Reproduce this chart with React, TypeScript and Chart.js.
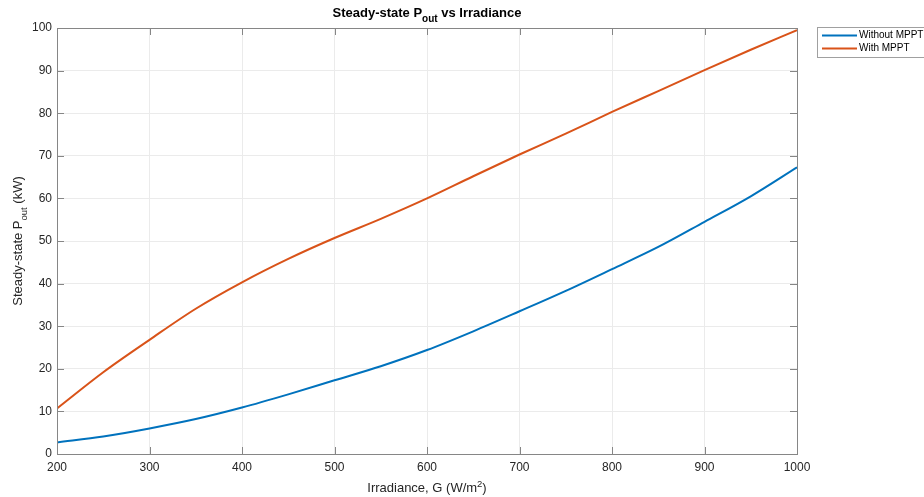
import React, { useEffect, useRef } from "react";
import { Chart, registerables } from "chart.js";

Chart.register(...registerables);

const irradiance = [200, 250, 300, 350, 400, 450, 500, 550, 600, 650, 700, 750, 800, 850, 900, 950, 1000];
const withoutMPPT = [2.7, 4.1, 6.0, 8.2, 10.9, 14.0, 17.3, 20.6, 24.4, 28.8, 33.5, 38.3, 43.4, 48.6, 54.5, 60.5, 67.3];
const withMPPT = [10.7, 19.2, 26.8, 34.1, 40.3, 45.8, 50.7, 55.2, 60.0, 65.2, 70.3, 75.2, 80.3, 85.2, 90.1, 94.9, 99.5];
const xTicks = [200, 300, 400, 500, 600, 700, 800, 900, 1000];
const yTicks = [0, 10, 20, 30, 40, 50, 60, 70, 80, 90, 100];
const seriesLabels = ["Without MPPT", "With MPPT"];
const seriesColors = ["#0072BD", "#D95319"];

const FONT = '"Liberation Sans", Arial, Helvetica, sans-serif';

const decorPlugin = {
  id: "decor",
  afterDraw(chart: any) {
    const ctx = chart.ctx;
    const { left, right, top, bottom } = chart.chartArea;
    const xs = chart.scales.x;
    const ys = chart.scales.y;
    ctx.save();
    // ticks inside
    ctx.strokeStyle = "#868686";
    ctx.lineWidth = 1;
    ctx.beginPath();
    xTicks.forEach((v) => {
      const px = Math.round(xs.getPixelForValue(v)) + 0.5;
      ctx.moveTo(px, bottom);
      ctx.lineTo(px, bottom - 7);
      ctx.moveTo(px, top);
      ctx.lineTo(px, top + 7);
    });
    yTicks.forEach((v) => {
      const py = Math.round(ys.getPixelForValue(v)) + 0.5;
      ctx.moveTo(left, py);
      ctx.lineTo(left + 7, py);
      ctx.moveTo(right, py);
      ctx.lineTo(right - 7, py);
    });
    ctx.stroke();
    // box
    ctx.strokeStyle = "#868686";
    ctx.strokeRect(Math.round(left) + 0.5, Math.round(top) + 0.5, Math.round(right - left), Math.round(bottom - top));

    // title
    const cx = (left + right) / 2;
    ctx.fillStyle = "#000000";
    ctx.textBaseline = "alphabetic";
    const tMain = "Steady-state P";
    const tSub = "out";
    const tEnd = " vs Irradiance";
    ctx.font = `bold 13px ${FONT}`;
    const w1 = ctx.measureText(tMain).width;
    const w3 = ctx.measureText(tEnd).width;
    ctx.font = `bold 10px ${FONT}`;
    const w2 = ctx.measureText(tSub).width;
    let tx = cx - (w1 + w2 + w3) / 2;
    const ty = 17;
    ctx.textAlign = "left";
    ctx.font = `bold 13px ${FONT}`;
    ctx.fillText(tMain, tx, ty);
    tx += w1;
    ctx.font = `bold 10px ${FONT}`;
    ctx.fillText(tSub, tx, ty + 5);
    tx += w2;
    ctx.font = `bold 13px ${FONT}`;
    ctx.fillText(tEnd, tx, ty);

    // x axis title
    ctx.fillStyle = "#262626";
    const xa = "Irradiance, G (W/m";
    const xsup = "2";
    const xe = ")";
    ctx.font = `13px ${FONT}`;
    const a1 = ctx.measureText(xa).width;
    const a3 = ctx.measureText(xe).width;
    ctx.font = `9.5px ${FONT}`;
    const a2 = ctx.measureText(xsup).width;
    let ax = cx - (a1 + a2 + a3) / 2;
    const ay = 492;
    ctx.font = `13px ${FONT}`;
    ctx.fillText(xa, ax, ay);
    ax += a1;
    ctx.font = `9.5px ${FONT}`;
    ctx.fillText(xsup, ax, ay - 5);
    ax += a2;
    ctx.font = `13px ${FONT}`;
    ctx.fillText(xe, ax, ay);

    // y axis title
    const cy = (top + bottom) / 2;
    ctx.save();
    ctx.translate(22, cy);
    ctx.rotate(-Math.PI / 2);
    const ya = "Steady-state P";
    const ysub = "out";
    const ye = " (kW)";
    ctx.font = `13px ${FONT}`;
    const b1 = ctx.measureText(ya).width;
    const b3 = ctx.measureText(ye).width;
    ctx.font = `9.5px ${FONT}`;
    const b2 = ctx.measureText(ysub).width;
    let bx = -(b1 + b2 + b3) / 2;
    ctx.font = `13px ${FONT}`;
    ctx.fillText(ya, bx, 0);
    bx += b1;
    ctx.font = `9.5px ${FONT}`;
    ctx.fillText(ysub, bx, 5);
    bx += b2;
    ctx.font = `13px ${FONT}`;
    ctx.fillText(ye, bx, 0);
    ctx.restore();

    // legend
    const lx = 817;
    const ly = 27;
    const lw = 110;
    const lh = 30;
    ctx.fillStyle = "#ffffff";
    ctx.fillRect(lx, ly, lw, lh);
    ctx.strokeStyle = "#a0a0a0";
    ctx.strokeRect(lx + 0.5, ly + 0.5, lw, lh);
    chart.data.datasets.forEach((ds: any, i: number) => {
      const yy = ly + 8.5 + i * 13;
      ctx.strokeStyle = ds.borderColor;
      ctx.lineWidth = 2;
      ctx.beginPath();
      ctx.moveTo(lx + 5, yy);
      ctx.lineTo(lx + 40, yy);
      ctx.stroke();
      ctx.fillStyle = "#000000";
      ctx.font = `10px ${FONT}`;
      ctx.textBaseline = "middle";
      ctx.fillText(ds.label, lx + 42, yy);
    });
    ctx.restore();
  },
};

export default function App() {
  const ref = useRef<HTMLCanvasElement | null>(null);
  useEffect(() => {
    document.body.style.margin = "0";
    if (!ref.current) return;
    const mk = (ys: number[]) => irradiance.map((x, i) => ({ x, y: ys[i] }));
    const chart = new Chart(ref.current, {
      type: "line",
      data: {
        datasets: [
          {
            label: seriesLabels[0],
            data: mk(withoutMPPT),
            borderColor: seriesColors[0],
            backgroundColor: seriesColors[0],
            borderWidth: 2,
            pointRadius: 0,
            cubicInterpolationMode: "monotone",
          },
          {
            label: seriesLabels[1],
            data: mk(withMPPT),
            borderColor: seriesColors[1],
            backgroundColor: seriesColors[1],
            borderWidth: 2,
            pointRadius: 0,
            cubicInterpolationMode: "monotone",
          },
        ],
      },
      options: {
        animation: false,
        responsive: false,
        maintainAspectRatio: false,
        layout: { padding: { top: 28, right: 127, left: 0, bottom: 0 } },
        plugins: {
          legend: { display: false },
          title: { display: false },
          tooltip: { enabled: false },
        },
        scales: {
          x: {
            type: "linear",
            min: 200,
            max: 1000,
            afterBuildTicks: (s: any) => {
              s.ticks = xTicks.map((v) => ({ value: v }));
            },
            afterFit: (s: any) => {
              s.height = 43;
            },
            grid: { color: "#ebebeb", drawTicks: false },
            border: { display: false },
            ticks: {
              padding: 6,
              color: "#262626",
              font: { family: FONT, size: 12 },
              maxRotation: 0,
              callback: (v: any) => String(v),
            },
          },
          y: {
            type: "linear",
            min: 0,
            max: 100,
            afterBuildTicks: (s: any) => {
              s.ticks = yTicks.map((v) => ({ value: v }));
            },
            afterFit: (s: any) => {
              s.width = 57;
            },
            grid: { color: "#ebebeb", drawTicks: false },
            border: { display: false },
            ticks: {
              padding: 5,
              color: "#262626",
              font: { family: FONT, size: 12 },
              callback: (v: any) => String(v),
            },
          },
        },
      },
      plugins: [decorPlugin],
    } as any);
    return () => chart.destroy();
  }, []);
  return (
    <div style={{ width: 924, height: 497, background: "#fff" }}>
      <canvas ref={ref} width={924} height={497} style={{ display: "block" }} />
    </div>
  );
}
